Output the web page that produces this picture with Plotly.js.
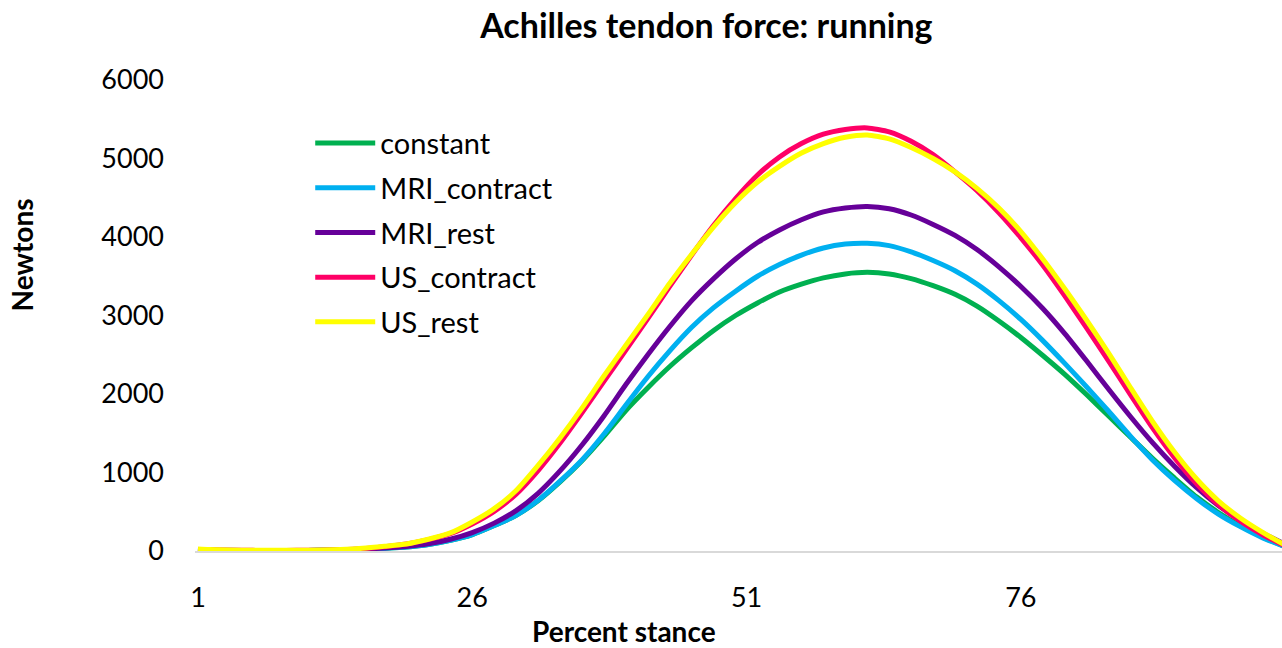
<!DOCTYPE html>
<html>
<head>
<meta charset="utf-8">
<script src="https://cdn.plot.ly/plotly-3.0.1.min.js"></script>
<style>html,body{margin:0;padding:0;background:#fff;}#chart{width:1282px;height:648px;}</style>
</head>
<body>
<div id="chart"></div>
<script>
// Percent stance sample points
const stance = [1,2,4,6,8,10,12,14,16,18,20,22,24,26,28,30,32,34,36,38,40,42,44,46,48,50,52,54,56,58,60,62,64,66,68,70,72,74,76,78,80,82,84,86,88,90,92,94,96,98,100];

const seriesNames = ["constant","MRI_contract","MRI_rest","US_contract","US_rest"];

const constant = [12,10,6,5,5,6,8,12,20,33,50,82,135,210,325,455,640,880,1150,1460,1790,2080,2350,2590,2810,3000,3160,3300,3400,3480,3530,3550,3530,3470,3380,3270,3120,2930,2720,2490,2250,1990,1720,1450,1180,930,690,490,320,180,60];

const MRI_contract = [12,10,6,5,5,6,8,12,20,33,50,82,135,210,325,455,645,890,1160,1490,1860,2220,2550,2850,3100,3310,3500,3650,3770,3860,3910,3920,3890,3810,3700,3570,3400,3190,2950,2680,2390,2090,1780,1460,1160,900,670,470,310,170,60];

const MRI_rest = [15,12,8,6,6,7,9,14,23,38,58,92,150,235,355,515,735,1020,1350,1720,2120,2500,2860,3190,3470,3720,3930,4090,4220,4320,4370,4390,4360,4280,4160,4020,3840,3620,3370,3090,2770,2420,2060,1710,1380,1080,810,580,390,230,90];

const US_contract = [20,15,10,8,7,8,10,17,30,55,90,145,220,345,505,725,1025,1375,1760,2160,2560,2960,3370,3770,4150,4490,4790,5020,5190,5310,5370,5390,5340,5220,5050,4830,4590,4310,3990,3640,3250,2840,2420,1990,1570,1190,860,590,380,210,70];

const US_rest = [25,18,12,10,9,10,12,19,34,60,90,150,230,370,540,770,1090,1440,1820,2230,2620,3010,3410,3780,4130,4440,4700,4900,5070,5190,5270,5300,5250,5140,5000,4830,4620,4370,4070,3720,3340,2940,2520,2080,1650,1260,920,640,420,240,80];

const xTicks = [1,26,51,76];
const yTicks = [0,1000,2000,3000,4000,5000,6000];

const colors = ["#00B050","#00B0F0","#660099","#FF0066","#FFFF00"];
const allSeries = [constant, MRI_contract, MRI_rest, US_contract, US_rest];

const FONT = "Lato, 'Open Sans', sans-serif";

const traces = allSeries.map((ys, k) => ({
  type: "scatter",
  mode: "lines",
  name: seriesNames[k],
  legendgroup: "g" + k,
  x: stance,
  y: ys,
  line: {color: colors[k], width: 5, shape: "spline", smoothing: 0.6},
  hoverinfo: "x+y+name"
}));

const layout = {
  width: 1282,
  height: 648,
  margin: {l: 195, r: 0, t: 80, b: 97, pad: 0},
  paper_bgcolor: "#ffffff",
  plot_bgcolor: "#ffffff",
  font: {family: FONT, size: 27, color: "#000000"},
  title: {
    text: "<b>Achilles tendon force: running</b>",
    font: {family: FONT, size: 34, color: "#000000"},
    xref: "container", x: 0.551, xanchor: "center",
    yref: "container", y: 0.978, yanchor: "top"
  },
  showlegend: true,
  legend: {
    x: 0.106, xanchor: "left",
    y: 0.92, yanchor: "top",
    bgcolor: "rgba(0,0,0,0)",
    font: {family: FONT, size: 29, color: "#000000"},
    tracegroupgap: 4,
    itemwidth: 60,
    traceorder: "grouped"
  },
  xaxis: {
    type: "linear",
    range: [0.73, 99.8],
    tickmode: "array",
    tickvals: xTicks,
    ticktext: xTicks.map(String),
    ticks: "",
    showgrid: false,
    zeroline: false,
    showline: true,
    linecolor: "#d9d9d9",
    linewidth: 2,
    ticklabelstandoff: 22,
    tickfont: {family: FONT, size: 27, color: "#000000"},
    automargin: false,
    fixedrange: true
  },
  yaxis: {
    range: [0, 6000],
    tickmode: "array",
    tickvals: yTicks,
    ticktext: yTicks.map(String),
    ticks: "",
    showgrid: false,
    zeroline: false,
    showline: false,
    ticklabelstandoff: 30,
    tickfont: {family: FONT, size: 27, color: "#000000"},
    automargin: false,
    fixedrange: true
  },
  annotations: [
    {text: "<b>Percent stance</b>", xref: "paper", yref: "paper", x: 0.3947, y: -0.17,
     xanchor: "center", yanchor: "middle", showarrow: false,
     font: {family: FONT, size: 28, color: "#000000"}},
    {text: "<b>Newtons</b>", xref: "paper", yref: "paper", x: -0.159, y: 0.628,
     xanchor: "center", yanchor: "middle", showarrow: false, textangle: -90,
     font: {family: FONT, size: 28, color: "#000000"}}
  ]
};

Plotly.newPlot("chart", traces, layout, {displayModeBar: false, staticPlot: true});
</script>
</body>
</html>
